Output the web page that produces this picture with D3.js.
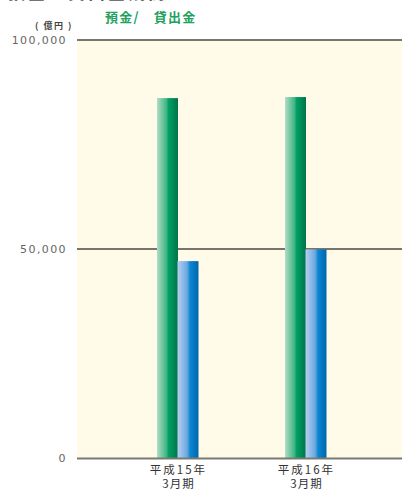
<!DOCTYPE html>
<html><head><meta charset="utf-8">
<script src="https://cdn.jsdelivr.net/npm/d3@7"></script>
<style>body{margin:0;background:#fff}svg{display:block}</style>
</head><body>
<svg id="c" width="402" height="491"></svg>
<script>
const categories = [["平成15年","3月期"],["平成16年","3月期"]];
const series = ["預金","貸出金"];
const deposits = [86100, 86350];
const loans = [47100, 49900];
const yTicks = [0, 50000, 100000];

const svg = d3.select("#c");
const font = "'Noto Sans CJK JP','Noto Sans',sans-serif";
const L = 77, R = 402, T = 40, B = 458;

const defs = svg.append("defs");
function grad(id, stops){
  const g = defs.append("linearGradient").attr("id", id).attr("x1","0").attr("x2","1").attr("y1","0").attr("y2","0");
  stops.forEach(s => g.append("stop").attr("offset", s[0]).attr("stop-color", s[1]));
}
grad("gG", [[0,"#b3dcc6"],[0.45,"#3fb585"],[0.55,"#00a064"],[1,"#00744a"]]);
grad("gB", [[0,"#b5cfef"],[0.45,"#6fa9e0"],[0.6,"#0a86d0"],[1,"#0066ad"]]);

const y = d3.scaleLinear().domain([0, 100000]).range([B, T]);
const x = d3.scaleBand().domain(categories.map(c => c[0])).range([113.5, 369.5]).padding(0);
const xs = d3.scaleBand().domain(series).range([-20.5, 20.5]).padding(0);

// background
svg.append("rect").attr("x", L).attr("y", T).attr("width", R - L).attr("height", B - T).attr("fill", "#fffbe8");

// grid lines
svg.selectAll(".grid").data(yTicks.filter(d => d > 0)).enter().append("line")
  .attr("x1", L).attr("x2", R).attr("y1", d => y(d)).attr("y2", d => y(d))
  .attr("stroke", "#4a4a44").attr("stroke-width", 1.5);

// bars
const data = categories.map((c, i) => ({cat: c[0], vals: [deposits[i], loans[i]]}));
const grp = svg.selectAll(".g").data(data).enter().append("g")
  .attr("transform", d => `translate(${x(d.cat) + x.bandwidth()/2},0)`);
grp.selectAll("rect").data(d => d.vals.map((v, j) => ({s: series[j], v}))).enter().append("rect")
  .attr("x", d => xs(d.s)).attr("width", xs.bandwidth() + 0.5)
  .attr("y", d => y(d.v)).attr("height", d => y(0) - y(d.v))
  .attr("fill", d => d.s === "預金" ? "url(#gG)" : "url(#gB)");

// zero axis
svg.append("line").attr("x1", L).attr("x2", R).attr("y1", y(0) + 0.5).attr("y2", y(0) + 0.5)
  .attr("stroke", "#7a7a72").attr("stroke-width", 2);

// y tick labels
svg.selectAll(".yl").data(yTicks).enter().append("text")
  .attr("x", 67).attr("y", d => y(d) + 4).attr("text-anchor", "end")
  .attr("font-family", "'DejaVu Sans',sans-serif").attr("font-size", 11).attr("letter-spacing", 1.4)
  .attr("fill", "#666").text(d => d3.format(",")(d));

// x labels
const xl = svg.selectAll(".xl").data(categories).enter().append("text")
  .attr("text-anchor", "middle").attr("font-family", font).attr("font-size", 11.5)
  .attr("fill", "#333");
xl.append("tspan").attr("x", d => x(d[0]) + x.bandwidth()/2 + 1).attr("y", 474).attr("letter-spacing", 2).text(d => d[0]);
xl.append("tspan").attr("x", d => x(d[0]) + x.bandwidth()/2 + 1).attr("y", 488).attr("letter-spacing", 1).text(d => d[1]);

// unit
svg.append("text").attr("x", 54).attr("y", 29).attr("text-anchor", "middle")
  .attr("font-family", font).attr("font-size", 9).attr("font-weight", "bold").attr("fill", "#444")
  .attr("letter-spacing", 1.5)
  .text("( 億円 )");

// legend
svg.append("text").attr("x", 105).attr("y", 22).attr("font-family", font).attr("font-size", 13)
  .attr("font-weight", "bold").attr("fill", "#22a05e").attr("letter-spacing", 1.2)
  .text(series[0] + "/　" + series[1]);

// cut-off title
svg.append("text").attr("x", 8).attr("y", -1).attr("font-family", font).attr("font-size", 17)
  .attr("font-weight", "bold").attr("fill", "#555").attr("letter-spacing", 3).text("預金・貸出金残高");
</script>
</body></html>
